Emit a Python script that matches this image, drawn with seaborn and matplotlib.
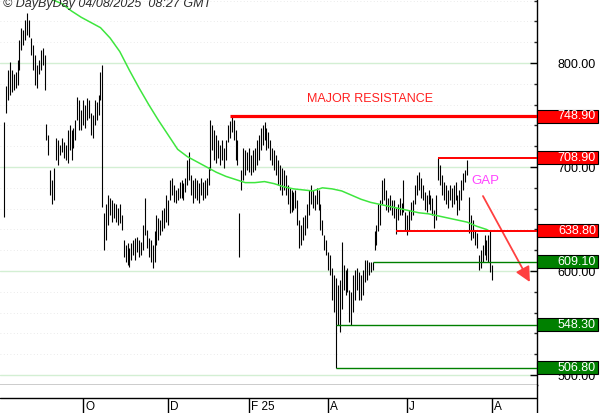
import numpy as np
import matplotlib
matplotlib.use("Agg")
import matplotlib.pyplot as plt
import matplotlib.transforms as mtrans
from matplotlib.patches import Rectangle
from matplotlib.ticker import MultipleLocator
import seaborn as sns

# daily highs / lows (one per trading day, Aug 2024 - Aug 2025)
hi = [743, 778, 793, 801, 793, 789, 791, 803, 822, 834,
      832, 841, 848, 841, 824, 817, 808, 798, 803, 813,
      814, 808, 741, 731, 697, 688, 699, 728, 726, 721,
      728, 724, 721, 736, 740, 736, 738, 745, 767, 764,
      755, 764, 760, 766, 764, 752, 750, 764, 763, 769,
      791, 798, 656, 664, 673, 670, 668, 665, 664, 661,
      664, 654, 630, 625, 627, 622, 627, 630, 632, 633,
      630, 628, 644, 670, 639, 632, 630, 625, 638, 654,
      651, 649, 659, 661, 673, 668, 688, 689, 683, 678,
      680, 686, 688, 685, 689, 707, 714, 692, 688, 689,
      688, 685, 689, 686, 688, 689, 700, 745, 740, 736,
      731, 726, 721, 726, 718, 726, 740, 744, 748.9, 745,
      736, 726, 656, 697, 718, 716, 714, 718, 712, 716,
      718, 726, 731, 738, 740, 743, 738, 734, 726, 718,
      716, 712, 707, 702, 699, 697, 692, 683, 680, 678,
      676, 678, 668, 649, 644, 652, 654, 664, 678, 683,
      678, 673, 680, 678, 664, 649, 635, 630, 618, 615,
      603, 596, 593, 587, 591, 628, 606, 601, 603, 582,
      580, 596, 601, 603, 599, 596, 601, 611, 611, 609,
      609, 609.1, 638, 644, 664, 668, 688, 689, 678, 670,
      673, 668, 668, 661, 664, 670, 665, 688, 657, 654,
      659, 666, 668, 683, 692, 695, 689, 683, 676, 673,
      678, 673, 670, 659, 673, 708.9, 702, 692, 686, 683,
      678, 683, 680, 683, 686, 673, 678, 688, 694, 697,
      707, 671, 654, 649, 639, 637, 615, 620, 625, 635,
      630, 635, 639, 606]
lo = [652, 752, 764, 769, 772, 774, 776, 779, 793, 813,
      817, 822, 827, 825, 808, 793, 779, 776, 789, 793,
      798, 774, 726, 712, 673, 664, 668, 707, 702, 712,
      714, 709, 707, 704, 716, 707, 718, 726, 745, 736,
      736, 740, 738, 745, 747, 731, 728, 740, 745, 750,
      764, 662, 620, 630, 644, 654, 647, 651, 647, 644,
      646, 639, 613, 609, 606, 604, 611, 615, 611, 618,
      613, 615, 620, 635, 622, 613, 609, 603, 609, 625,
      630, 635, 638, 641, 647, 644, 668, 673, 666, 665,
      668, 670, 670, 668, 676, 683, 688, 673, 665, 670,
      668, 665, 673, 668, 670, 673, 683, 697, 716, 707,
      704, 709, 702, 707, 699, 707, 724, 728, 734, 726,
      707, 702, 613, 678, 688, 692, 697, 695, 692, 695,
      697, 702, 707, 716, 721, 726, 716, 718, 707, 702,
      697, 692, 683, 678, 673, 678, 673, 664, 656, 657,
      659, 661, 644, 622, 625, 630, 635, 641, 654, 664,
      661, 659, 664, 659, 639, 635, 620, 615, 601, 596,
      572, 561, 506.8, 548.3, 541, 563, 582, 577, 580, 551,
      548, 561, 572, 582, 572, 572, 577, 589, 591, 596,
      599, 601, 620, 625, 638, 644, 664, 668, 659, 657,
      659, 654, 651, 636, 649, 654, 654, 657, 639, 635,
      639, 649, 654, 664, 673, 678, 670, 668, 659, 657,
      664, 659, 654, 641, 649, 688, 683, 673, 668, 664,
      661, 668, 662, 664, 668, 654, 659, 668, 678, 686,
      692, 637, 630, 632, 625, 622, 601, 603, 609, 615,
      611, 609, 599, 591]

# moving average, read every 5th bar
ma_idx = list(range(20, 251, 5)) + [251]
ma_val = [866, 861, 857, 850, 844, 839, 834, 824, 811, 793,
          776, 760, 745, 731, 717, 710, 705, 700, 695, 691,
          688, 685, 685, 686, 684, 681, 679, 678, 677, 680,
          679, 677, 673, 669, 666, 664, 662, 660, 658, 656,
          655, 653, 651, 649, 647, 643, 640, 639]

levels = [748.9, 708.9, 638.8, 609.1, 548.3, 506.8]
level_from = [117, 225, 203, 191, 172, 172]
level_kind = ["res", "res", "res", "sup", "sup", "sup"]

month_pos = [41, 85, 127, 168, 209, 253]
month_lab = ["O", "D", "F 25", "A", "J", "A"]

sns.set_style("white")
plt.rcParams['font.family'] = ['Liberation Sans', 'DejaVu Sans']

fig = plt.figure(figsize=(6, 4.13), dpi=100)
ax = fig.add_axes([0, 28 / 413, 537 / 600, 385 / 413])
axd = fig.add_axes([0, 0, 537 / 600, 28 / 413])

X0, X1 = -2.07, 276.2
x = np.arange(len(hi))

# grid
for v in range(500, 861, 20):
    ax.axhline(v, color='#e4e4e4', lw=0.6, ls=(0, (1, 3)), zorder=0)
for v in [500, 600, 700, 800]:
    ax.axhline(v, color='#d3efd3', lw=1.0, zorder=0)

ax.vlines(x, lo, hi, color='#000000', lw=0.8, zorder=2)
sns.lineplot(x=ma_idx, y=ma_val, ax=ax, color='#3ee63e', lw=1.1, zorder=3)

trans = mtrans.blended_transform_factory(ax.transAxes, ax.transData)
for v, s, k in zip(levels, level_from, level_kind):
    if k == "res":
        col = '#ff0000'
        lw = 2.3 if v == max(levels) else 1.4
    else:
        col = '#008000'
        lw = 1.0
    ax.hlines(v, s, X1, color=col, lw=lw, zorder=4)
    ax.add_patch(Rectangle((1.0, v - 6.3), 598 / 537 - 1.0, 12.6, transform=trans,
                           facecolor=col, edgecolor='black', lw=0.8,
                           clip_on=False, zorder=6))
    ax.text(596 / 537, v, f"{v:.2f}", transform=trans, ha='right', va='center',
            color='white', fontsize=9, clip_on=False, zorder=7)

ax.text(189.6, 765.4, "MAJOR RESISTANCE", color='#ff2020', ha='center',
        va='center', fontsize=9)
ax.text(249.2, 686.5, "GAP", color='#ff44ff', ha='center', va='center', fontsize=9.5)
ax.annotate("", xy=(272.5, 589.4), xytext=(248.2, 672.1),
            arrowprops=dict(arrowstyle='-|>,head_length=0.9,head_width=0.45',
                            color='#ff4040', lw=1.3, shrinkA=0, shrinkB=0),
            annotation_clip=False)

ax.set_xlim(X0, X1)
ax.set_ylim(490.4, 860.6)
ax.set_xticks([])
ax.yaxis.tick_right()
ax.set_yticks([500, 600, 700, 800])
ax.set_yticklabels([f"{v:.2f}" for v in [500, 600, 700, 800]])
ax.yaxis.set_minor_locator(MultipleLocator(20))
ax.tick_params(axis='y', which='major', direction='in', length=5, width=1,
               pad=42, labelsize=9, colors='black')
ax.tick_params(axis='y', which='minor', direction='in', length=2.2, width=1)
plt.setp(ax.get_yticklabels(), ha='right')
for sp in ['left', 'top']:
    ax.spines[sp].set_visible(False)
for sp in ['right', 'bottom']:
    ax.spines[sp].set_color('black')
    ax.spines[sp].set_linewidth(1)

# date strip
axd.set_xlim(X0, X1)
axd.set_ylim(0, 28)
axd.axhline(15, color='black', lw=1)
axd.vlines(month_pos, 0, 15, color='black', lw=1)
for m, lab in zip(month_pos, month_lab):
    axd.text(m + 1.0, 3, lab, ha='left', va='baseline', fontsize=8.5, color='black')
axd.set_xticks([])
axd.set_yticks([])
for sp in ['left', 'top', 'bottom']:
    axd.spines[sp].set_visible(False)
axd.spines['right'].set_color('black')
axd.spines['right'].set_linewidth(1)

fig.text(3 / 600, 1 - 7.5 / 413, "© DayByDay 04/08/2025  08:27 GMT", ha='left',
         va='baseline', style='italic', fontsize=9, color='#2a2a2a')

fig.savefig("out.png", dpi=100)
